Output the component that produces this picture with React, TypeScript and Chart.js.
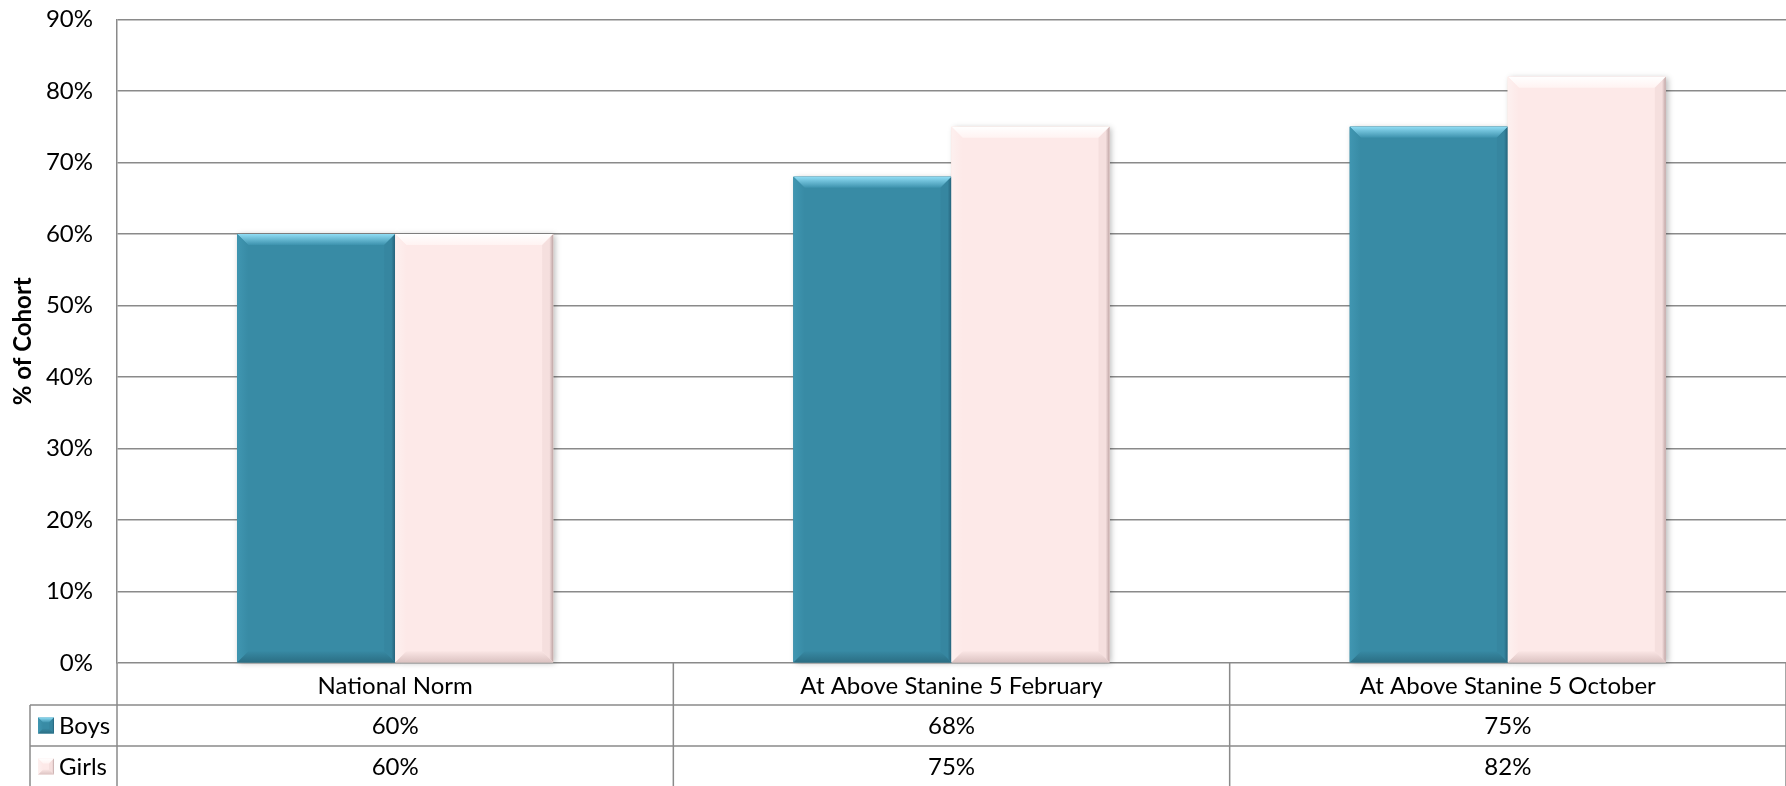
import React, { useEffect, useRef } from "react";
import { Chart, registerables } from "chart.js";

Chart.register(...registerables);

const categories = ["National Norm", "At Above Stanine 5 February", "At Above Stanine 5 October"];
const seriesNames = ["Boys", "Girls"];
const boysValues = [60, 68, 75];
const girlsValues = [60, 75, 82];
const yMin = 0;
const yMax = 90;
const yStep = 10;
const yTitle = "% of Cohort";

const W = 1786;
const H = 786;
const FONT = "Lato, 'Open Sans', sans-serif";
const FS = 24;
const GRID = "#8a8a8a";

type Bevel = { main: string; top: [string, string]; right: [string, string]; bottom: [string, string]; left: [string, string] };

const boysStyle: Bevel = {
  main: "#388ba5",
  top: ["#8fdcf4", "#3d92ad"],
  right: ["#25627a", "#3686a0"],
  bottom: ["#2b6e84", "#3789a3"],
  left: ["#4096b1", "#388ba5"],
};
const girlsStyle: Bevel = {
  main: "#fde9e8",
  top: ["#ffffff", "#fff3f2"],
  right: ["#bfa5a5", "#f5dfde"],
  bottom: ["#dcc3c2", "#fae5e4"],
  left: ["#fdf0ef", "#fde9e8"],
};
const styles = [boysStyle, girlsStyle];

function drawBevel(ctx: CanvasRenderingContext2D, l: number, t: number, r: number, b: number, s: Bevel, bv: number) {
  ctx.save();
  ctx.fillStyle = s.main;
  ctx.fillRect(l, t, r - l, b - t);
  const poly = (pts: number[][], g: CanvasGradient) => {
    ctx.beginPath();
    ctx.moveTo(pts[0][0], pts[0][1]);
    for (let i = 1; i < pts.length; i++) ctx.lineTo(pts[i][0], pts[i][1]);
    ctx.closePath();
    ctx.fillStyle = g;
    ctx.fill();
  };
  let g = ctx.createLinearGradient(0, t, 0, t + bv);
  g.addColorStop(0, s.top[0]);
  g.addColorStop(1, s.top[1]);
  poly([[l, t], [r, t], [r - bv, t + bv], [l + bv, t + bv]], g);
  g = ctx.createLinearGradient(r, 0, r - bv, 0);
  g.addColorStop(0, s.right[0]);
  g.addColorStop(0.35, s.right[1]);
  g.addColorStop(1, s.right[1]);
  poly([[r, t], [r, b], [r - bv, b - bv], [r - bv, t + bv]], g);
  g = ctx.createLinearGradient(0, b, 0, b - bv);
  g.addColorStop(0, s.bottom[0]);
  g.addColorStop(1, s.bottom[1]);
  poly([[l, b], [r, b], [r - bv, b - bv], [l + bv, b - bv]], g);
  g = ctx.createLinearGradient(l, 0, l + bv, 0);
  g.addColorStop(0, s.left[0]);
  g.addColorStop(1, s.left[1]);
  poly([[l, t], [l + bv, t + bv], [l + bv, b - bv], [l, b]], g);
  ctx.restore();
}

const bevelPlugin = {
  id: "bevelBars",
  afterDatasetsDraw(chart: any) {
    const ctx = chart.ctx as CanvasRenderingContext2D;
    chart.data.datasets.forEach((_: any, di: number) => {
      const meta = chart.getDatasetMeta(di);
      meta.data.forEach((el: any) => {
        const l = el.x - el.width / 2;
        const r = el.x + el.width / 2;
        const t = Math.min(el.y, el.base);
        const b = Math.max(el.y, el.base);
        ctx.save();
        ctx.shadowColor = "rgba(0,0,0,0.28)";
        ctx.shadowBlur = 6;
        ctx.shadowOffsetX = 2;
        ctx.shadowOffsetY = 1;
        ctx.fillStyle = styles[di].main;
        ctx.fillRect(l, t, r - l, b - t);
        ctx.restore();
      });
    });
    chart.data.datasets.forEach((_: any, di: number) => {
      const meta = chart.getDatasetMeta(di);
      meta.data.forEach((el: any) => {
        const l = el.x - el.width / 2;
        const r = el.x + el.width / 2;
        const t = Math.min(el.y, el.base);
        const b = Math.max(el.y, el.base);
        drawBevel(ctx, l, t, r, b, styles[di], 11);
      });
    });
  },
};

const tablePlugin = {
  id: "dataTable",
  afterDraw(chart: any) {
    const ctx = chart.ctx as CanvasRenderingContext2D;
    const area = chart.chartArea;
    const xs = chart.scales.x;
    const n = categories.length;
    const catW = (area.right - area.left) / n;
    const top = area.bottom;
    const row1 = top + 42;
    const row2 = row1 + 41;
    const row3 = row2 + 41;
    const legendLeft = 30;
    ctx.save();
    ctx.strokeStyle = GRID;
    ctx.lineWidth = 1.5;
    const line = (x1: number, y1: number, x2: number, y2: number) => {
      ctx.beginPath();
      ctx.moveTo(x1, y1);
      ctx.lineTo(x2, y2);
      ctx.stroke();
    };
    line(legendLeft, row1, area.right, row1);
    line(legendLeft, row2, area.right, row2);
    line(legendLeft, row3, area.right, row3);
    line(legendLeft, row1, legendLeft, row3);
    for (let i = 0; i <= n; i++) {
      const x = area.left + i * catW;
      line(x, top, x, row3);
    }
    ctx.fillStyle = "#000";
    ctx.font = `${FS}px ${FONT}`;
    ctx.textAlign = "center";
    ctx.textBaseline = "middle";
    const rows = [boysValues, girlsValues];
    const rowTops = [row1, row2];
    rows.forEach((vals, ri) => {
      const cy = rowTops[ri] + 20.5;
      vals.forEach((v, ci) => {
        const cx = xs.getPixelForValue(ci);
        ctx.fillText(`${v}%`, cx, cy + 1);
      });
      const kx = 38;
      const ks = 16;
      drawBevel(ctx, kx, cy - ks / 2, kx + ks, cy + ks / 2, styles[ri], 5);
      ctx.textAlign = "left";
      ctx.fillStyle = "#000";
      ctx.fillText(seriesNames[ri], 59, cy + 1);
      ctx.textAlign = "center";
    });
    ctx.restore();
  },
};

export default function App() {
  const ref = useRef<HTMLCanvasElement | null>(null);
  useEffect(() => {
    document.body.style.margin = "0";
    const canvas = ref.current!;
    const chart = new Chart(canvas, {
      type: "bar",
      data: {
        labels: categories,
        datasets: [
          { label: seriesNames[0], data: boysValues, backgroundColor: boysStyle.main, categoryPercentage: 0.568, barPercentage: 1.0 },
          { label: seriesNames[1], data: girlsValues, backgroundColor: girlsStyle.main, categoryPercentage: 0.568, barPercentage: 1.0 },
        ],
      },
      options: {
        responsive: false,
        animation: false,
        devicePixelRatio: 1,
        layout: { padding: { top: 19.5, right: 0, left: 0, bottom: 0 } },
        plugins: { legend: { display: false }, tooltip: { enabled: false } },
        scales: {
          x: {
            grid: { display: false, drawTicks: false },
            border: { display: false },
            ticks: { color: "#000", font: { family: FONT, size: FS }, padding: 9, maxRotation: 0, autoSkip: false },
            afterFit: (s: any) => {
              s.height = 123;
              s.paddingTop = 0;
              s.paddingBottom = 0;
            },
          },
          y: {
            min: yMin,
            max: yMax,
            grid: { color: GRID, lineWidth: 1.5, drawTicks: false },
            border: { display: true, color: GRID, width: 1.5 },
            ticks: {
              stepSize: yStep,
              color: "#000",
              font: { family: FONT, size: FS },
              padding: 24,
              callback: (v: any) => `${v}%`,
            },
            title: {
              display: true,
              text: yTitle,
              color: "#000",
              font: { family: FONT, size: 24, weight: "bold" },
              padding: { top: 9, bottom: 0 },
            },
            afterFit: (s: any) => {
              s.width = 117;
              s.paddingTop = 0;
              s.paddingBottom = 0;
            },
          },
        },
      },
      plugins: [bevelPlugin, tablePlugin],
    });
    return () => chart.destroy();
  }, []);
  return (
    <div style={{ position: "absolute", left: 0, top: 0, width: W, height: H, background: "#fff" }}>
      <canvas ref={ref} width={W} height={H} style={{ display: "block", width: W, height: H }} />
    </div>
  );
}
